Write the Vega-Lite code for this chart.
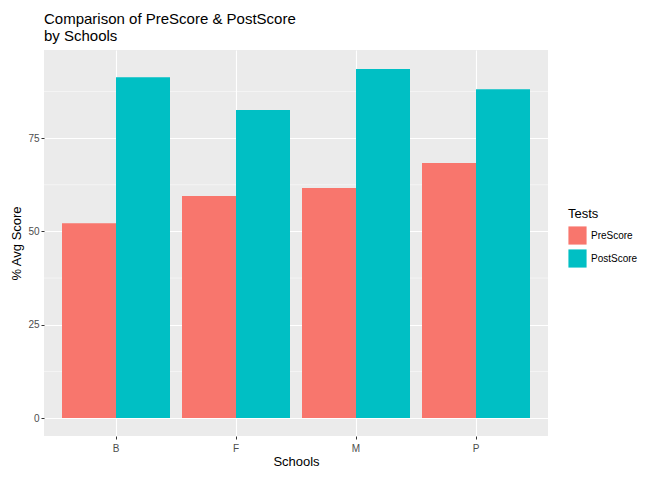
{
  "$schema": "https://vega.github.io/schema/vega-lite/v6.json",
  "width": 504,
  "height": 386,
  "autosize": "none",
  "padding": {"left": 44, "top": 50, "right": 124, "bottom": 44},
  "background": "white",
  "title": {
    "text": ["Comparison of PreScore & PostScore", " by Schools"],
    "anchor": "start",
    "frame": "group",
    "fontSize": 15,
    "fontWeight": "normal",
    "font": "Liberation Sans",
    "color": "black",
    "offset": 6,
    "lineHeight": 17
  },
  "config": {
    "view": {"fill": "#EBEBEB", "stroke": null},
    "font": "Liberation Sans",
    "axis": {
      "labelColor": "#4D4D4D",
      "labelFontSize": 10,
      "titleFontSize": 13,
      "titleFontWeight": "normal",
      "titleColor": "black",
      "tickColor": "#333333",
      "tickSize": 3,
      "domain": false,
      "gridColor": "white",
      "gridWidth": 1.1
    }
  },
  "layer": [
    {
      "data": {"values": [{"v": 12.5}, {"v": 37.5}, {"v": 62.5}, {"v": 87.5}]},
      "mark": {"type": "rule", "color": "white", "strokeWidth": 0.5},
      "encoding": {"y": {"field": "v", "type": "quantitative", "scale": {"domain": [-4.8, 98.6], "nice": false}}}
    },
    {
      "data": {
        "values": [
          {"School": "B", "Test": "PreScore", "Score": 52.2},
          {"School": "B", "Test": "PostScore", "Score": 91.3},
          {"School": "F", "Test": "PreScore", "Score": 59.5},
          {"School": "F", "Test": "PostScore", "Score": 82.5},
          {"School": "M", "Test": "PreScore", "Score": 61.6},
          {"School": "M", "Test": "PostScore", "Score": 93.5},
          {"School": "P", "Test": "PreScore", "Score": 68.3},
          {"School": "P", "Test": "PostScore", "Score": 88.1}
        ]
      },
      "mark": {"type": "bar"},
      "encoding": {
        "x": {
          "field": "School", "type": "nominal", "title": "Schools",
          "scale": {"paddingInner": 0.1, "paddingOuter": 0.15},
          "axis": {"labelAngle": 0, "grid": true, "titlePadding": 2, "labelPadding": 4}
        },
        "xOffset": {"field": "Test", "sort": ["PreScore", "PostScore"], "scale": {"paddingInner": 0, "paddingOuter": 0}},
        "y": {
          "field": "Score", "type": "quantitative", "title": "% Avg Score",
          "scale": {"domain": [-4.8, 98.6], "nice": false, "zero": false},
          "axis": {"values": [0, 25, 50, 75], "grid": true, "titlePadding": 4}
        },
        "color": {
          "field": "Test", "title": "Tests",
          "sort": ["PreScore", "PostScore"],
          "scale": {"domain": ["PreScore", "PostScore"], "range": ["#F8766D", "#00BFC4"]},
          "legend": {
            "orient": "none", "legendX": 524, "legendY": 158,
            "symbolType": "square", "symbolSize": 330, "symbolStrokeWidth": 0,
            "titleFontSize": 13, "titleFontWeight": "normal", "titleColor": "black",
            "labelFontSize": 10, "labelColor": "black", "rowPadding": 4
          }
        }
      }
    }
  ]
}
